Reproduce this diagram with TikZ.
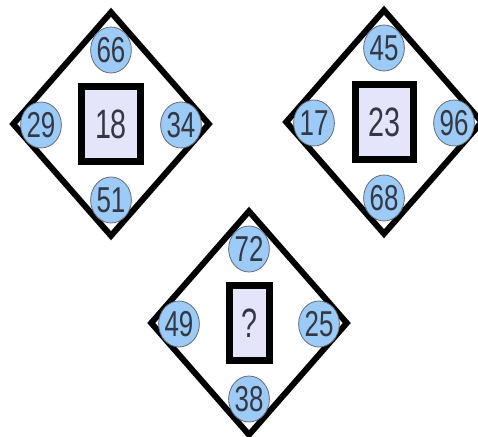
\documentclass[tikz,border=0pt]{standalone}
\usepackage{graphicx}
\usepackage{fontspec}
\setmainfont{Liberation Sans}
\usetikzlibrary{shapes.geometric}
\definecolor{mBall}{HTML}{9DCBF7}
\definecolor{mBox}{HTML}{E4E4FB}
\definecolor{mInk}{HTML}{333844}

\tikzset{
  frame/.style={diamond, draw=black, line width=6pt, minimum width=198pt, minimum height=226pt, inner sep=0pt},
  ball/.style={ellipse, draw=mInk!75, line width=0.8pt, fill=mBall, minimum width=37pt, minimum height=46pt, inner sep=0pt, text=mInk, font=\fontsize{36}{36}\selectfont},
  card/.style={rectangle, draw=black, line width=7pt, fill=mBox, minimum height=75pt, inner sep=0pt, text=mInk, font=\fontsize{41}{41}\selectfont}
}

\begin{document}
\begin{tikzpicture}[x=1pt, y=-1pt]
  \useasboundingbox (0,0) rectangle (478,436);
  \foreach \nm/\cx/\cy/\mid/\bw/\tp/\lf/\rt/\bt in {a/111/124/18/59/66/29/34/51, b/384/122/23/58/45/17/96/68, c/249/323/?/40/72/49/25/38} {
    % diamond with its card
    \node[frame] (\nm-frame) at (\cx,\cy) {};
    \node[card, minimum width=\bw pt] (\nm-card) at (\cx,\cy) {\scalebox{0.7}[1]{\mid}};
    % numbers round it
    \node[ball] (\nm-top) at (\cx,\cy-74) {\scalebox{0.72}[1]{\tp}};
    \node[ball] (\nm-left) at (\cx-70,\cy+1) {\scalebox{0.72}[1]{\lf}};
    \node[ball] (\nm-right) at (\cx+70,\cy+1) {\scalebox{0.72}[1]{\rt}};
    \node[ball] (\nm-bottom) at (\cx,\cy+76) {\scalebox{0.72}[1]{\bt}};
  }
\end{tikzpicture}
\end{document}
